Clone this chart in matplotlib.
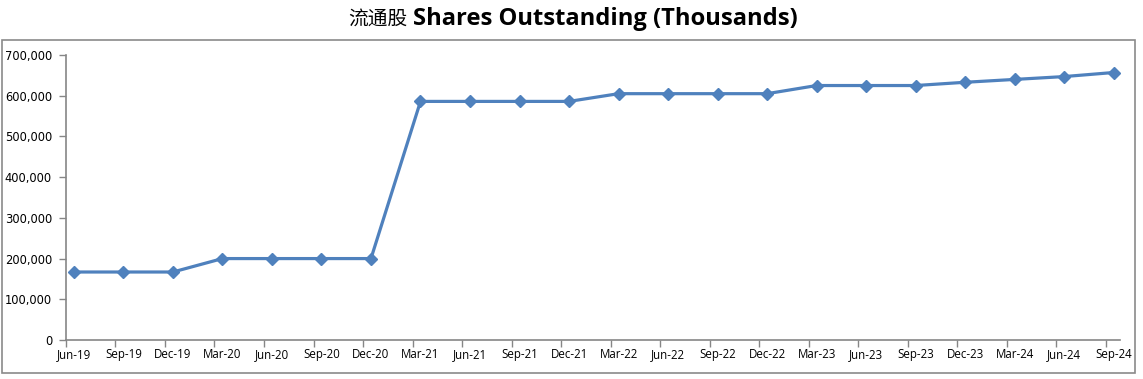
import numpy as np
import matplotlib
matplotlib.use('Agg')
import matplotlib.pyplot as plt
from matplotlib.patches import Rectangle
from matplotlib.ticker import FuncFormatter

# ── Data ─────────────────────────────────────────────────────────────────────
quarters = ["Jun-19", "Sep-19", "Dec-19", "Mar-20", "Jun-20", "Sep-20", "Dec-20",
            "Mar-21", "Jun-21", "Sep-21", "Dec-21", "Mar-22", "Jun-22", "Sep-22",
            "Dec-22", "Mar-23", "Jun-23", "Sep-23", "Dec-23", "Mar-24", "Jun-24",
            "Sep-24"]
shares = [167000, 167000, 167000, 200000, 200000, 200000, 200000,
          586000, 586000, 586000, 586000, 605000, 605000, 605000,
          605000, 625000, 625000, 625000, 633000, 640000, 647000,
          657000]
y_ticks = [0, 100000, 200000, 300000, 400000, 500000, 600000, 700000]

LINE_COLOR = "#4F81BD"
AXIS_COLOR = "#868686"

plt.rcParams['font.family'] = ['Noto Sans CJK SC', 'DejaVu Sans']

fig = plt.figure(figsize=(11.43, 3.79), dpi=100)
ax = fig.add_axes([0.0577, 0.1029, 0.9223, 0.752])

x = np.arange(len(quarters))
ax.plot(x, shares, color=LINE_COLOR, linewidth=2.3, marker="D",
        markersize=6.5, markerfacecolor=LINE_COLOR, markeredgecolor=LINE_COLOR,
        clip_on=False, zorder=3)

# category axis: labels centred on points, tick marks slightly to the left
offset = -0.16
ax.set_xlim(offset, 21.13)
ax.set_xticks(x)
ax.set_xticklabels(quarters, fontsize=8.3, family=["Open Sans", "DejaVu Sans"])
ax.tick_params(axis="x", which="major", length=0, pad=6)
ax.set_xticks(x + offset, minor=True)
ax.tick_params(axis="x", which="minor", length=5, color=AXIS_COLOR, width=1)

ax.set_ylim(0, 700000)
ax.set_yticks(y_ticks)
ax.yaxis.set_major_formatter(FuncFormatter(lambda v, p: f"{int(v):,}"))
ax.tick_params(axis="y", length=5, color=AXIS_COLOR, width=1, labelsize=8.3, pad=5)
for lbl in ax.get_yticklabels():
    lbl.set_family(["DejaVu Sans"])

for side in ["top", "right"]:
    ax.spines[side].set_visible(False)
for side in ["left", "bottom"]:
    ax.spines[side].set_color(AXIS_COLOR)
    ax.spines[side].set_linewidth(1.2)

# outer chart border
fig.patches.append(Rectangle((0.00175, 0.0158), 0.9915, 0.8787,
                             transform=fig.transFigure, fill=False,
                             edgecolor="#8a8a8a", linewidth=1.2))

# title: CJK part + bold English part
fig.text(0.3045, 0.950, "流通股", ha="left", va="center", fontsize=14.2,
         family=["Noto Sans CJK SC", "DejaVu Sans"])
fig.text(0.3615, 0.950, "Shares Outstanding (Thousands)", ha="left",
         va="center", fontsize=17.1, fontweight="bold",
         family=["Open Sans", "DejaVu Sans"])

plt.savefig("out.png", dpi=100)
